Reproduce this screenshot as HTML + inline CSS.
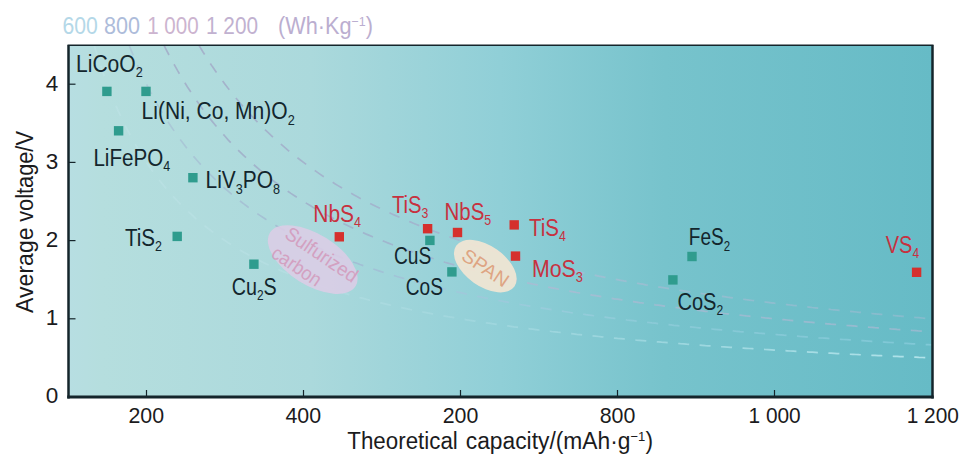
<!DOCTYPE html>
<html><head><meta charset="utf-8"><title>Energy density chart</title>
<style>
html,body{margin:0;padding:0;background:#fff;}
svg{display:block;font-family:"Liberation Sans",sans-serif;}
</style></head><body>
<svg width="972" height="467" viewBox="0 0 972 467">
<defs>
<linearGradient id="bg" gradientUnits="userSpaceOnUse" x1="68.5" y1="0" x2="932.5" y2="0">
<stop offset="0" stop-color="#b7dee2"/>
<stop offset="0.04" stop-color="#b5dede"/>
<stop offset="0.28" stop-color="#abd9dc"/>
<stop offset="0.50" stop-color="#90cfd7"/>
<stop offset="0.69" stop-color="#77c3cc"/>
<stop offset="1" stop-color="#66bbc6"/>
</linearGradient>
<linearGradient id="c600" gradientUnits="userSpaceOnUse" x1="68.5" y1="0" x2="932.5" y2="0">
<stop offset="0" stop-color="#c8e8ee" stop-opacity="0.3"/><stop offset="0.45" stop-color="#c6e9f0" stop-opacity="0.22"/><stop offset="0.7" stop-color="#c9eef5" stop-opacity="0.45"/><stop offset="1" stop-color="#d2f5fa" stop-opacity="0.7"/>
</linearGradient>
<linearGradient id="c800" gradientUnits="userSpaceOnUse" x1="68.5" y1="0" x2="932.5" y2="0">
<stop offset="0" stop-color="#a9c0d4" stop-opacity="0.5"/><stop offset="0.3" stop-color="#9fb2cf" stop-opacity="0.75"/><stop offset="0.5" stop-color="#abc4e0" stop-opacity="0.45"/><stop offset="0.65" stop-color="#b5d8ee" stop-opacity="0.3"/><stop offset="1" stop-color="#a5dcf0" stop-opacity="0.4"/>
</linearGradient>
<linearGradient id="c1000" gradientUnits="userSpaceOnUse" x1="68.5" y1="0" x2="932.5" y2="0">
<stop offset="0" stop-color="#a5a8c5" stop-opacity="0.85"/><stop offset="0.2" stop-color="#a0adc8" stop-opacity="0.85"/><stop offset="0.42" stop-color="#a0b0cc" stop-opacity="0.8"/><stop offset="0.58" stop-color="#c8b0d4" stop-opacity="0.45"/><stop offset="1" stop-color="#dab8dc" stop-opacity="0.4"/>
</linearGradient>
<linearGradient id="c1200" gradientUnits="userSpaceOnUse" x1="68.5" y1="0" x2="932.5" y2="0">
<stop offset="0" stop-color="#a5a7c5" stop-opacity="0.85"/><stop offset="0.2" stop-color="#a2acc8" stop-opacity="0.85"/><stop offset="0.42" stop-color="#a3afcc" stop-opacity="0.8"/><stop offset="0.58" stop-color="#c9b2d6" stop-opacity="0.4"/><stop offset="1" stop-color="#ccbcdc" stop-opacity="0.3"/>
</linearGradient>
</defs>
<rect x="0" y="0" width="972" height="467" fill="#ffffff"/>
<rect x="68.5" y="45.2" width="864.0" height="351.8" fill="url(#bg)"/>
<g fill="none" stroke-width="1.7" stroke-dasharray="11 10.5">
<path d="M94.2,45.2 L96.3,52.0 L99.4,61.9 L102.5,71.2 L105.7,80.0 L108.8,88.3 L112.0,96.2 L115.1,103.8 L118.2,110.9 L121.4,117.7 L124.5,124.2 L127.7,130.4 L130.8,136.3 L133.9,142.0 L137.1,147.4 L140.2,152.6 L143.4,157.6 L146.5,162.4 L149.6,167.0 L152.8,171.4 L155.9,175.7 L159.1,179.8 L162.2,183.7 L165.3,187.5 L168.5,191.2 L171.6,194.8 L174.8,198.2 L177.9,201.5 L181.0,204.7 L184.2,207.8 L187.3,210.8 L190.5,213.7 L193.6,216.5 L196.7,219.3 L199.9,221.9 L203.0,224.5 L206.2,227.0 L209.3,229.4 L212.4,231.8 L215.6,234.1 L218.7,236.3 L221.9,238.5 L225.0,240.6 L228.1,242.7 L231.3,244.7 L234.4,246.6 L237.6,248.5 L240.7,250.4 L243.8,252.2 L247.0,254.0 L250.1,255.7 L253.3,257.4 L256.4,259.0 L259.5,260.6 L262.7,262.2 L265.8,263.7 L269.0,265.2 L272.1,266.7 L275.2,268.1 L278.4,269.5 L281.5,270.9 L284.7,272.2 L287.8,273.5 L290.9,274.8 L294.1,276.1 L297.2,277.3 L300.4,278.5 L303.5,279.7 L306.6,280.9 L309.8,282.0 L312.9,283.1 L316.1,284.2 L319.2,285.3 L322.3,286.3 L325.5,287.4 L328.6,288.4 L331.8,289.4 L334.9,290.4 L338.0,291.3 L341.2,292.3 L344.3,293.2 L347.5,294.1 L350.6,295.0 L353.7,295.9 L356.9,296.7 L360.0,297.6 L363.2,298.4 L366.3,299.2 L369.4,300.1 L372.6,300.9 L375.7,301.6 L378.9,302.4 L382.0,303.2 L385.1,303.9 L388.3,304.6 L391.4,305.4 L394.6,306.1 L397.7,306.8 L400.8,307.5 L404.0,308.1 L407.1,308.8 L410.3,309.5 L413.4,310.1 L416.5,310.8 L419.7,311.4 L422.8,312.0 L426.0,312.6 L429.1,313.2 L432.2,313.8 L435.4,314.4 L438.5,315.0 L441.7,315.5 L444.8,316.1 L447.9,316.7 L451.1,317.2 L454.2,317.7 L457.4,318.3 L460.5,318.8 L463.6,319.3 L466.8,319.8 L469.9,320.3 L473.1,320.8 L476.2,321.3 L479.3,321.8 L482.5,322.3 L485.6,322.8 L488.8,323.2 L491.9,323.7 L495.0,324.1 L498.2,324.6 L501.3,325.0 L504.5,325.5 L507.6,325.9 L510.7,326.3 L513.9,326.8 L517.0,327.2 L520.2,327.6 L523.3,328.0 L526.4,328.4 L529.6,328.8 L532.7,329.2 L535.9,329.6 L539.0,330.0 L542.1,330.4 L545.3,330.7 L548.4,331.1 L551.6,331.5 L554.7,331.8 L557.8,332.2 L561.0,332.5 L564.1,332.9 L567.3,333.2 L570.4,333.6 L573.5,333.9 L576.7,334.3 L579.8,334.6 L583.0,334.9 L586.1,335.3 L589.2,335.6 L592.4,335.9 L595.5,336.2 L598.7,336.5 L601.8,336.8 L604.9,337.2 L608.1,337.5 L611.2,337.8 L614.4,338.1 L617.5,338.4 L620.6,338.6 L623.8,338.9 L626.9,339.2 L630.1,339.5 L633.2,339.8 L636.3,340.1 L639.5,340.3 L642.6,340.6 L645.8,340.9 L648.9,341.1 L652.0,341.4 L655.2,341.7 L658.3,341.9 L661.5,342.2 L664.6,342.4 L667.7,342.7 L670.9,342.9 L674.0,343.2 L677.2,343.4 L680.3,343.7 L683.4,343.9 L686.6,344.2 L689.7,344.4 L692.9,344.6 L696.0,344.9 L699.1,345.1 L702.3,345.3 L705.4,345.6 L708.6,345.8 L711.7,346.0 L714.8,346.2 L718.0,346.4 L721.1,346.7 L724.3,346.9 L727.4,347.1 L730.5,347.3 L733.7,347.5 L736.8,347.7 L740.0,347.9 L743.1,348.1 L746.2,348.3 L749.4,348.5 L752.5,348.7 L755.7,348.9 L758.8,349.1 L761.9,349.3 L765.1,349.5 L768.2,349.7 L771.4,349.9 L774.5,350.1 L777.6,350.3 L780.8,350.5 L783.9,350.6 L787.1,350.8 L790.2,351.0 L793.3,351.2 L796.5,351.4 L799.6,351.5 L802.8,351.7 L805.9,351.9 L809.0,352.1 L812.2,352.2 L815.3,352.4 L818.5,352.6 L821.6,352.7 L824.7,352.9 L827.9,353.1 L831.0,353.2 L834.2,353.4 L837.3,353.6 L840.4,353.7 L843.6,353.9 L846.7,354.0 L849.9,354.2 L853.0,354.3 L856.1,354.5 L859.3,354.7 L862.4,354.8 L865.6,355.0 L868.7,355.1 L871.8,355.3 L875.0,355.4 L878.1,355.6 L881.3,355.7 L884.4,355.8 L887.5,356.0 L890.7,356.1 L893.8,356.3 L897.0,356.4 L900.1,356.6 L903.2,356.7 L906.4,356.8 L909.5,357.0 L912.7,357.1 L915.8,357.2 L918.9,357.4 L922.1,357.5 L925.2,357.6 L928.4,357.8 L931.5,357.9" stroke="url(#c600)"/>
<path d="M129.1,45.2 L130.8,49.4 L133.9,57.0 L137.1,64.2 L140.2,71.2 L143.4,77.8 L146.5,84.2 L149.6,90.3 L152.8,96.2 L155.9,101.9 L159.1,107.4 L162.2,112.6 L165.3,117.7 L168.5,122.6 L171.6,127.3 L174.8,131.9 L177.9,136.3 L181.0,140.6 L184.2,144.7 L187.3,148.7 L190.5,152.6 L193.6,156.4 L196.7,160.0 L199.9,163.6 L203.0,167.0 L206.2,170.3 L209.3,173.6 L212.4,176.7 L215.6,179.8 L218.7,182.8 L221.9,185.6 L225.0,188.5 L228.1,191.2 L231.3,193.9 L234.4,196.5 L237.6,199.0 L240.7,201.5 L243.8,203.9 L247.0,206.3 L250.1,208.6 L253.3,210.8 L256.4,213.0 L259.5,215.1 L262.7,217.2 L265.8,219.3 L269.0,221.3 L272.1,223.2 L275.2,225.1 L278.4,227.0 L281.5,228.8 L284.7,230.6 L287.8,232.4 L290.9,234.1 L294.1,235.8 L297.2,237.4 L300.4,239.0 L303.5,240.6 L306.6,242.1 L309.8,243.7 L312.9,245.2 L316.1,246.6 L319.2,248.0 L322.3,249.5 L325.5,250.8 L328.6,252.2 L331.8,253.5 L334.9,254.8 L338.0,256.1 L341.2,257.4 L344.3,258.6 L347.5,259.8 L350.6,261.0 L353.7,262.2 L356.9,263.3 L360.0,264.5 L363.2,265.6 L366.3,266.7 L369.4,267.7 L372.6,268.8 L375.7,269.8 L378.9,270.9 L382.0,271.9 L385.1,272.9 L388.3,273.9 L391.4,274.8 L394.6,275.8 L397.7,276.7 L400.8,277.6 L404.0,278.5 L407.1,279.4 L410.3,280.3 L413.4,281.1 L416.5,282.0 L419.7,282.8 L422.8,283.7 L426.0,284.5 L429.1,285.3 L432.2,286.1 L435.4,286.9 L438.5,287.6 L441.7,288.4 L444.8,289.1 L447.9,289.9 L451.1,290.6 L454.2,291.3 L457.4,292.0 L460.5,292.7 L463.6,293.4 L466.8,294.1 L469.9,294.8 L473.1,295.4 L476.2,296.1 L479.3,296.7 L482.5,297.4 L485.6,298.0 L488.8,298.6 L491.9,299.2 L495.0,299.9 L498.2,300.5 L501.3,301.0 L504.5,301.6 L507.6,302.2 L510.7,302.8 L513.9,303.3 L517.0,303.9 L520.2,304.5 L523.3,305.0 L526.4,305.5 L529.6,306.1 L532.7,306.6 L535.9,307.1 L539.0,307.6 L542.1,308.1 L545.3,308.6 L548.4,309.1 L551.6,309.6 L554.7,310.1 L557.8,310.6 L561.0,311.1 L564.1,311.5 L567.3,312.0 L570.4,312.5 L573.5,312.9 L576.7,313.4 L579.8,313.8 L583.0,314.2 L586.1,314.7 L589.2,315.1 L592.4,315.5 L595.5,316.0 L598.7,316.4 L601.8,316.8 L604.9,317.2 L608.1,317.6 L611.2,318.0 L614.4,318.4 L617.5,318.8 L620.6,319.2 L623.8,319.6 L626.9,320.0 L630.1,320.3 L633.2,320.7 L636.3,321.1 L639.5,321.4 L642.6,321.8 L645.8,322.2 L648.9,322.5 L652.0,322.9 L655.2,323.2 L658.3,323.6 L661.5,323.9 L664.6,324.3 L667.7,324.6 L670.9,324.9 L674.0,325.3 L677.2,325.6 L680.3,325.9 L683.4,326.2 L686.6,326.5 L689.7,326.9 L692.9,327.2 L696.0,327.5 L699.1,327.8 L702.3,328.1 L705.4,328.4 L708.6,328.7 L711.7,329.0 L714.8,329.3 L718.0,329.6 L721.1,329.9 L724.3,330.2 L727.4,330.4 L730.5,330.7 L733.7,331.0 L736.8,331.3 L740.0,331.6 L743.1,331.8 L746.2,332.1 L749.4,332.4 L752.5,332.6 L755.7,332.9 L758.8,333.2 L761.9,333.4 L765.1,333.7 L768.2,333.9 L771.4,334.2 L774.5,334.4 L777.6,334.7 L780.8,334.9 L783.9,335.2 L787.1,335.4 L790.2,335.7 L793.3,335.9 L796.5,336.1 L799.6,336.4 L802.8,336.6 L805.9,336.8 L809.0,337.1 L812.2,337.3 L815.3,337.5 L818.5,337.8 L821.6,338.0 L824.7,338.2 L827.9,338.4 L831.0,338.6 L834.2,338.9 L837.3,339.1 L840.4,339.3 L843.6,339.5 L846.7,339.7 L849.9,339.9 L853.0,340.1 L856.1,340.3 L859.3,340.5 L862.4,340.7 L865.6,340.9 L868.7,341.1 L871.8,341.3 L875.0,341.5 L878.1,341.7 L881.3,341.9 L884.4,342.1 L887.5,342.3 L890.7,342.5 L893.8,342.7 L897.0,342.9 L900.1,343.1 L903.2,343.3 L906.4,343.4 L909.5,343.6 L912.7,343.8 L915.8,344.0 L918.9,344.2 L922.1,344.3 L925.2,344.5 L928.4,344.7 L931.5,344.9" stroke="url(#c800)"/>
<path d="M164.0,45.2 L165.3,47.9 L168.5,54.0 L171.6,59.9 L174.8,65.6 L177.9,71.2 L181.0,76.5 L184.2,81.7 L187.3,86.7 L190.5,91.5 L193.6,96.2 L196.7,100.8 L199.9,105.2 L203.0,109.5 L206.2,113.7 L209.3,117.7 L212.4,121.6 L215.6,125.5 L218.7,129.2 L221.9,132.8 L225.0,136.3 L228.1,139.8 L231.3,143.1 L234.4,146.4 L237.6,149.5 L240.7,152.6 L243.8,155.6 L247.0,158.6 L250.1,161.5 L253.3,164.3 L256.4,167.0 L259.5,169.7 L262.7,172.3 L265.8,174.8 L269.0,177.3 L272.1,179.8 L275.2,182.2 L278.4,184.5 L281.5,186.8 L284.7,189.0 L287.8,191.2 L290.9,193.4 L294.1,195.5 L297.2,197.5 L300.4,199.5 L303.5,201.5 L306.6,203.4 L309.8,205.3 L312.9,207.2 L316.1,209.0 L319.2,210.8 L322.3,212.6 L325.5,214.3 L328.6,216.0 L331.8,217.6 L334.9,219.3 L338.0,220.9 L341.2,222.4 L344.3,224.0 L347.5,225.5 L350.6,227.0 L353.7,228.5 L356.9,229.9 L360.0,231.3 L363.2,232.7 L366.3,234.1 L369.4,235.4 L372.6,236.8 L375.7,238.1 L378.9,239.3 L382.0,240.6 L385.1,241.8 L388.3,243.1 L391.4,244.3 L394.6,245.4 L397.7,246.6 L400.8,247.8 L404.0,248.9 L407.1,250.0 L410.3,251.1 L413.4,252.2 L416.5,253.2 L419.7,254.3 L422.8,255.3 L426.0,256.4 L429.1,257.4 L432.2,258.3 L435.4,259.3 L438.5,260.3 L441.7,261.2 L444.8,262.2 L447.9,263.1 L451.1,264.0 L454.2,264.9 L457.4,265.8 L460.5,266.7 L463.6,267.5 L466.8,268.4 L469.9,269.2 L473.1,270.1 L476.2,270.9 L479.3,271.7 L482.5,272.5 L485.6,273.3 L488.8,274.0 L491.9,274.8 L495.0,275.6 L498.2,276.3 L501.3,277.1 L504.5,277.8 L507.6,278.5 L510.7,279.2 L513.9,279.9 L517.0,280.6 L520.2,281.3 L523.3,282.0 L526.4,282.7 L529.6,283.3 L532.7,284.0 L535.9,284.6 L539.0,285.3 L542.1,285.9 L545.3,286.5 L548.4,287.2 L551.6,287.8 L554.7,288.4 L557.8,289.0 L561.0,289.6 L564.1,290.2 L567.3,290.8 L570.4,291.3 L573.5,291.9 L576.7,292.5 L579.8,293.0 L583.0,293.6 L586.1,294.1 L589.2,294.6 L592.4,295.2 L595.5,295.7 L598.7,296.2 L601.8,296.7 L604.9,297.3 L608.1,297.8 L611.2,298.3 L614.4,298.8 L617.5,299.2 L620.6,299.7 L623.8,300.2 L626.9,300.7 L630.1,301.2 L633.2,301.6 L636.3,302.1 L639.5,302.6 L642.6,303.0 L645.8,303.5 L648.9,303.9 L652.0,304.3 L655.2,304.8 L658.3,305.2 L661.5,305.6 L664.6,306.1 L667.7,306.5 L670.9,306.9 L674.0,307.3 L677.2,307.7 L680.3,308.1 L683.4,308.5 L686.6,308.9 L689.7,309.3 L692.9,309.7 L696.0,310.1 L699.1,310.5 L702.3,310.9 L705.4,311.3 L708.6,311.6 L711.7,312.0 L714.8,312.4 L718.0,312.7 L721.1,313.1 L724.3,313.5 L727.4,313.8 L730.5,314.2 L733.7,314.5 L736.8,314.9 L740.0,315.2 L743.1,315.5 L746.2,315.9 L749.4,316.2 L752.5,316.5 L755.7,316.9 L758.8,317.2 L761.9,317.5 L765.1,317.9 L768.2,318.2 L771.4,318.5 L774.5,318.8 L777.6,319.1 L780.8,319.4 L783.9,319.7 L787.1,320.0 L790.2,320.3 L793.3,320.6 L796.5,320.9 L799.6,321.2 L802.8,321.5 L805.9,321.8 L809.0,322.1 L812.2,322.4 L815.3,322.7 L818.5,322.9 L821.6,323.2 L824.7,323.5 L827.9,323.8 L831.0,324.1 L834.2,324.3 L837.3,324.6 L840.4,324.9 L843.6,325.1 L846.7,325.4 L849.9,325.6 L853.0,325.9 L856.1,326.2 L859.3,326.4 L862.4,326.7 L865.6,326.9 L868.7,327.2 L871.8,327.4 L875.0,327.7 L878.1,327.9 L881.3,328.2 L884.4,328.4 L887.5,328.6 L890.7,328.9 L893.8,329.1 L897.0,329.4 L900.1,329.6 L903.2,329.8 L906.4,330.0 L909.5,330.3 L912.7,330.5 L915.8,330.7 L918.9,331.0 L922.1,331.2 L925.2,331.4 L928.4,331.6 L931.5,331.8" stroke="url(#c1000)"/>
<path d="M198.9,45.2 L199.9,46.9 L203.0,52.0 L206.2,57.0 L209.3,61.9 L212.4,66.6 L215.6,71.2 L218.7,75.6 L221.9,80.0 L225.0,84.2 L228.1,88.3 L231.3,92.3 L234.4,96.2 L237.6,100.0 L240.7,103.8 L243.8,107.4 L247.0,110.9 L250.1,114.3 L253.3,117.7 L256.4,121.0 L259.5,124.2 L262.7,127.3 L265.8,130.4 L269.0,133.4 L272.1,136.3 L275.2,139.2 L278.4,142.0 L281.5,144.7 L284.7,147.4 L287.8,150.1 L290.9,152.6 L294.1,155.1 L297.2,157.6 L300.4,160.0 L303.5,162.4 L306.6,164.7 L309.8,167.0 L312.9,169.2 L316.1,171.4 L319.2,173.6 L322.3,175.7 L325.5,177.7 L328.6,179.8 L331.8,181.8 L334.9,183.7 L338.0,185.6 L341.2,187.5 L344.3,189.4 L347.5,191.2 L350.6,193.0 L353.7,194.8 L356.9,196.5 L360.0,198.2 L363.2,199.9 L366.3,201.5 L369.4,203.1 L372.6,204.7 L375.7,206.3 L378.9,207.8 L382.0,209.3 L385.1,210.8 L388.3,212.3 L391.4,213.7 L394.6,215.1 L397.7,216.5 L400.8,217.9 L404.0,219.3 L407.1,220.6 L410.3,221.9 L413.4,223.2 L416.5,224.5 L419.7,225.8 L422.8,227.0 L426.0,228.2 L429.1,229.4 L432.2,230.6 L435.4,231.8 L438.5,232.9 L441.7,234.1 L444.8,235.2 L447.9,236.3 L451.1,237.4 L454.2,238.5 L457.4,239.6 L460.5,240.6 L463.6,241.6 L466.8,242.7 L469.9,243.7 L473.1,244.7 L476.2,245.6 L479.3,246.6 L482.5,247.6 L485.6,248.5 L488.8,249.5 L491.9,250.4 L495.0,251.3 L498.2,252.2 L501.3,253.1 L504.5,254.0 L507.6,254.8 L510.7,255.7 L513.9,256.5 L517.0,257.4 L520.2,258.2 L523.3,259.0 L526.4,259.8 L529.6,260.6 L532.7,261.4 L535.9,262.2 L539.0,262.9 L542.1,263.7 L545.3,264.5 L548.4,265.2 L551.6,265.9 L554.7,266.7 L557.8,267.4 L561.0,268.1 L564.1,268.8 L567.3,269.5 L570.4,270.2 L573.5,270.9 L576.7,271.5 L579.8,272.2 L583.0,272.9 L586.1,273.5 L589.2,274.2 L592.4,274.8 L595.5,275.4 L598.7,276.1 L601.8,276.7 L604.9,277.3 L608.1,277.9 L611.2,278.5 L614.4,279.1 L617.5,279.7 L620.6,280.3 L623.8,280.9 L626.9,281.4 L630.1,282.0 L633.2,282.6 L636.3,283.1 L639.5,283.7 L642.6,284.2 L645.8,284.8 L648.9,285.3 L652.0,285.8 L655.2,286.3 L658.3,286.9 L661.5,287.4 L664.6,287.9 L667.7,288.4 L670.9,288.9 L674.0,289.4 L677.2,289.9 L680.3,290.4 L683.4,290.8 L686.6,291.3 L689.7,291.8 L692.9,292.3 L696.0,292.7 L699.1,293.2 L702.3,293.7 L705.4,294.1 L708.6,294.6 L711.7,295.0 L714.8,295.4 L718.0,295.9 L721.1,296.3 L724.3,296.7 L727.4,297.2 L730.5,297.6 L733.7,298.0 L736.8,298.4 L740.0,298.8 L743.1,299.2 L746.2,299.7 L749.4,300.1 L752.5,300.5 L755.7,300.9 L758.8,301.2 L761.9,301.6 L765.1,302.0 L768.2,302.4 L771.4,302.8 L774.5,303.2 L777.6,303.5 L780.8,303.9 L783.9,304.3 L787.1,304.6 L790.2,305.0 L793.3,305.4 L796.5,305.7 L799.6,306.1 L802.8,306.4 L805.9,306.8 L809.0,307.1 L812.2,307.5 L815.3,307.8 L818.5,308.1 L821.6,308.5 L824.7,308.8 L827.9,309.1 L831.0,309.5 L834.2,309.8 L837.3,310.1 L840.4,310.4 L843.6,310.8 L846.7,311.1 L849.9,311.4 L853.0,311.7 L856.1,312.0 L859.3,312.3 L862.4,312.6 L865.6,312.9 L868.7,313.2 L871.8,313.5 L875.0,313.8 L878.1,314.1 L881.3,314.4 L884.4,314.7 L887.5,315.0 L890.7,315.3 L893.8,315.5 L897.0,315.8 L900.1,316.1 L903.2,316.4 L906.4,316.7 L909.5,316.9 L912.7,317.2 L915.8,317.5 L918.9,317.7 L922.1,318.0 L925.2,318.3 L928.4,318.5 L931.5,318.8" stroke="url(#c1200)"/>
</g>
<ellipse cx="312.7" cy="259.6" rx="50.5" ry="25.5" transform="rotate(32 312.7 259.6)" fill="#dccde6" fill-opacity="0.88"/>
<ellipse cx="485.3" cy="266.1" rx="35.6" ry="20.2" transform="rotate(35 485.3 266.1)" fill="#f1e5d3" fill-opacity="0.93"/>
<text transform="translate(283.5,237) rotate(34)" font-size="19.5" fill="#d3a1c1" textLength="83" lengthAdjust="spacingAndGlyphs">Sulfurized</text>
<text transform="translate(270,256.2) rotate(34)" font-size="19.5" fill="#d3a1c1" textLength="55.5" lengthAdjust="spacingAndGlyphs">carbon</text>
<text transform="translate(460.3,258.8) rotate(34)" font-size="19" fill="#dea583" textLength="52" lengthAdjust="spacingAndGlyphs">SPAN</text>
<rect x="102.2" y="86.7" width="9.4" height="9.4" fill="#2f9c8e"/>
<rect x="141.3" y="86.7" width="9.4" height="9.4" fill="#2f9c8e"/>
<rect x="113.9" y="126.1" width="9.4" height="9.4" fill="#2f9c8e"/>
<rect x="188.2" y="173.0" width="9.4" height="9.4" fill="#2f9c8e"/>
<rect x="172.5" y="231.7" width="9.4" height="9.4" fill="#2f9c8e"/>
<rect x="249.2" y="259.5" width="9.4" height="9.4" fill="#2f9c8e"/>
<rect x="425.2" y="235.7" width="9.4" height="9.4" fill="#2f9c8e"/>
<rect x="447.2" y="267.2" width="9.4" height="9.4" fill="#2f9c8e"/>
<rect x="687.3" y="251.8" width="9.4" height="9.4" fill="#2f9c8e"/>
<rect x="668.2" y="275.2" width="9.4" height="9.4" fill="#2f9c8e"/>
<rect x="334.6" y="232.1" width="9.4" height="9.4" fill="#d5302d"/>
<rect x="422.9" y="224.0" width="9.4" height="9.4" fill="#d5302d"/>
<rect x="452.8" y="227.8" width="9.4" height="9.4" fill="#d5302d"/>
<rect x="509.5" y="220.2" width="9.4" height="9.4" fill="#d5302d"/>
<rect x="510.8" y="251.4" width="9.4" height="9.4" fill="#d5302d"/>
<rect x="911.9" y="267.6" width="9.4" height="9.4" fill="#d5302d"/>
<g stroke="#14252b" fill="none">
<line x1="67.5" y1="45.2" x2="933.5" y2="45.2" stroke-width="1.5"/>
<line x1="68.5" y1="45.2" x2="68.5" y2="398.4" stroke-width="2.5"/>
<line x1="932.5" y1="45.2" x2="932.5" y2="398.4" stroke-width="2.5"/>
<line x1="67.25" y1="397.0" x2="933.75" y2="397.0" stroke-width="2.9"/>
<g stroke-width="1.2">
<line x1="146.5" y1="397.0" x2="146.5" y2="390.0"/><line x1="303.5" y1="397.0" x2="303.5" y2="390.0"/><line x1="460.5" y1="397.0" x2="460.5" y2="390.0"/><line x1="617.5" y1="397.0" x2="617.5" y2="390.0"/><line x1="774.5" y1="397.0" x2="774.5" y2="390.0"/>
<line x1="68.5" y1="318.8" x2="75.5" y2="318.8"/><line x1="68.5" y1="240.6" x2="75.5" y2="240.6"/><line x1="68.5" y1="162.4" x2="75.5" y2="162.4"/><line x1="68.5" y1="84.2" x2="75.5" y2="84.2"/>
</g>
</g>
<g fill="#1b1b1d" font-size="22.5">
<text x="58.2" y="90.5" text-anchor="end">4</text><text x="58.2" y="168.5" text-anchor="end">3</text><text x="58.2" y="246.5" text-anchor="end">2</text><text x="58.2" y="324.5" text-anchor="end">1</text><text x="58.2" y="402.5" text-anchor="end">0</text>
<text x="128.5" y="422.5" textLength="35.6" lengthAdjust="spacingAndGlyphs">200</text>
<text x="285.5" y="422.5" textLength="35.6" lengthAdjust="spacingAndGlyphs">400</text>
<text x="442.7" y="422.5" textLength="35.6" lengthAdjust="spacingAndGlyphs">200</text>
<text x="599.7" y="422.5" textLength="35.6" lengthAdjust="spacingAndGlyphs">800</text>
<text x="748.5" y="422.5" textLength="52.2" lengthAdjust="spacingAndGlyphs">1 000</text>
<text x="906.7" y="422.5" textLength="52.2" lengthAdjust="spacingAndGlyphs">1 200</text>
<text x="347.3" y="449" font-size="23.5" textLength="110.5" lengthAdjust="spacingAndGlyphs">Theoretical</text>
<text x="465.8" y="449" font-size="23.5" textLength="187.2" lengthAdjust="spacingAndGlyphs">capacity/(mAh·g<tspan font-size="13.5" dy="-8.5">−1</tspan><tspan dy="8.5">)</tspan></text>
<text transform="translate(33,312.9) rotate(-90)" font-size="23.5" textLength="85.5" lengthAdjust="spacingAndGlyphs">Average</text>
<text transform="translate(33,221.8) rotate(-90)" font-size="23.5" textLength="90.7" lengthAdjust="spacingAndGlyphs">voltage/V</text>
</g>
<g font-size="23.5">
<text x="62.6" y="34.2" fill="#b4d8e8" textLength="35.3" lengthAdjust="spacingAndGlyphs">600</text>
<text x="104" y="34.2" fill="#adbcda" textLength="36" lengthAdjust="spacingAndGlyphs">800</text>
<text x="147.2" y="34.2" fill="#ccb4cf" textLength="51.5" lengthAdjust="spacingAndGlyphs">1 000</text>
<text x="206" y="34.2" fill="#c1b1d0" textLength="52" lengthAdjust="spacingAndGlyphs">1 200</text>
<text x="278" y="34.2" fill="#bbaed0" textLength="95" lengthAdjust="spacingAndGlyphs">(Wh·Kg<tspan font-size="13.5" dy="-8.5">−1</tspan><tspan dy="8.5">)</tspan></text>
</g>
<text x="76" y="71.6" fill="#13262d" font-size="23.5" textLength="66.8" lengthAdjust="spacingAndGlyphs">LiCoO<tspan font-size="14.2" dy="5.2">2</tspan></text>
<text x="141.6" y="119.3" fill="#13262d" font-size="23.5" textLength="153.1" lengthAdjust="spacingAndGlyphs">Li(Ni, Co, Mn)O<tspan font-size="14.2" dy="5.2">2</tspan></text>
<text x="93.4" y="165.8" fill="#13262d" font-size="23.5" textLength="76.8" lengthAdjust="spacingAndGlyphs">LiFePO<tspan font-size="14.2" dy="5.2">4</tspan></text>
<text x="205.6" y="188.3" fill="#13262d" font-size="23.5" textLength="74.5" lengthAdjust="spacingAndGlyphs">LiV<tspan font-size="14.2" dy="5.2">3</tspan><tspan dy="-5.2">PO</tspan><tspan font-size="14.2" dy="5.2">8</tspan></text>
<text x="124.9" y="246" fill="#13262d" font-size="23.5" textLength="37.1" lengthAdjust="spacingAndGlyphs">TiS<tspan font-size="14.2" dy="5.2">2</tspan></text>
<text x="231.7" y="294.5" fill="#13262d" font-size="23.5" textLength="45" lengthAdjust="spacingAndGlyphs">Cu<tspan font-size="14.2" dy="5.2">2</tspan><tspan dy="-5.2">S</tspan></text>
<text x="393.9" y="263.5" fill="#13262d" font-size="23.5" textLength="37.3" lengthAdjust="spacingAndGlyphs">CuS</text>
<text x="405.8" y="294.5" fill="#13262d" font-size="23.5" textLength="37.1" lengthAdjust="spacingAndGlyphs">CoS</text>
<text x="688.8" y="245.4" fill="#13262d" font-size="23.5" textLength="41.3" lengthAdjust="spacingAndGlyphs">FeS<tspan font-size="14.2" dy="5.2">2</tspan></text>
<text x="677.4" y="309.9" fill="#13262d" font-size="23.5" textLength="45.8" lengthAdjust="spacingAndGlyphs">CoS<tspan font-size="14.2" dy="5.2">2</tspan></text>
<text x="313.3" y="221.5" fill="#c7313f" font-size="23.5" textLength="47.8" lengthAdjust="spacingAndGlyphs">NbS<tspan font-size="14.2" dy="5.2">4</tspan></text>
<text x="391.9" y="212.5" fill="#c7313f" font-size="23.5" textLength="36.4" lengthAdjust="spacingAndGlyphs">TiS<tspan font-size="14.2" dy="5.2">3</tspan></text>
<text x="444.5" y="220.2" fill="#c7313f" font-size="23.5" textLength="46.7" lengthAdjust="spacingAndGlyphs">NbS<tspan font-size="14.2" dy="5.2">5</tspan></text>
<text x="529" y="235.5" fill="#c7313f" font-size="23.5" textLength="36.9" lengthAdjust="spacingAndGlyphs">TiS<tspan font-size="14.2" dy="5.2">4</tspan></text>
<text x="532" y="276.5" fill="#c7313f" font-size="23.5" textLength="51" lengthAdjust="spacingAndGlyphs">MoS<tspan font-size="14.2" dy="5.2">3</tspan></text>
<text x="885.7" y="252.8" fill="#c7313f" font-size="23.5" textLength="33.4" lengthAdjust="spacingAndGlyphs">VS<tspan font-size="14.2" dy="5.2">4</tspan></text>
</svg>
</body></html>
